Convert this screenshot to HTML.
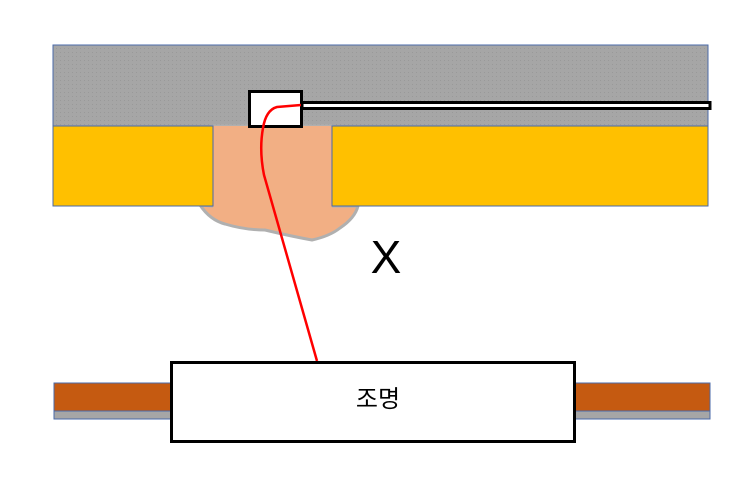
<!DOCTYPE html>
<html><head><meta charset="utf-8"><style>
html,body{margin:0;padding:0;background:#fff;}
svg{display:block;}
</style></head><body>
<svg width="750" height="496" viewBox="0 0 750 496" xmlns="http://www.w3.org/2000/svg">
<defs>
<pattern id="dots" width="4" height="4" patternUnits="userSpaceOnUse">
<rect width="4" height="4" fill="#a6a6a6"/><rect width="1" height="1" fill="#999"/>
</pattern>
</defs>
<rect x="53" y="45" width="655" height="81" fill="url(#dots)" stroke="#4a6aa8" stroke-width="1"/>
<path d="M200,205 Q210,220 225,224 Q245,230 265,230 Q290,236 312,240 Q330,236 340,228 Q355,218 358,206 L332,206 L332,126 L213,126 L213,206 Z" fill="#f2af84" stroke="#b0b0b0" stroke-width="3" stroke-linejoin="round"/>
<rect x="213" y="126" width="119" height="82" fill="#f2af84"/>
<rect x="53" y="126" width="160" height="80" fill="#ffc000" stroke="#4a6aa8" stroke-width="1"/>
<rect x="332" y="126" width="376" height="80" fill="#ffc000" stroke="#4a6aa8" stroke-width="1"/>
<rect x="302" y="102.5" width="408" height="6" fill="#fff" stroke="#000" stroke-width="3"/>
<rect x="249.5" y="91.5" width="52" height="35" fill="#fff" stroke="#000" stroke-width="3"/>
<path d="M301,105 L277,107 Q266,110 263,128 Q259,150 264,175 L317,361" fill="none" stroke="#ff0000" stroke-width="2.5"/>
<text x="386" y="273" font-family="Liberation Sans, sans-serif" font-size="46" text-anchor="middle" fill="#000">X</text>
<rect x="54" y="383" width="656" height="28" fill="#c55a11" stroke="#4a6aa8" stroke-width="1"/>
<rect x="54" y="411" width="656" height="8" fill="#a6a6a6" stroke="#4a6aa8" stroke-width="1"/>
<rect x="171.5" y="362.5" width="403" height="79" fill="#fff" stroke="#000" stroke-width="3"/>
<text x="378" y="407" font-family="Liberation Sans, 'Noto Sans CJK KR', sans-serif" font-size="24" text-anchor="middle" fill="#000">조명</text>
</svg>
</body></html>
